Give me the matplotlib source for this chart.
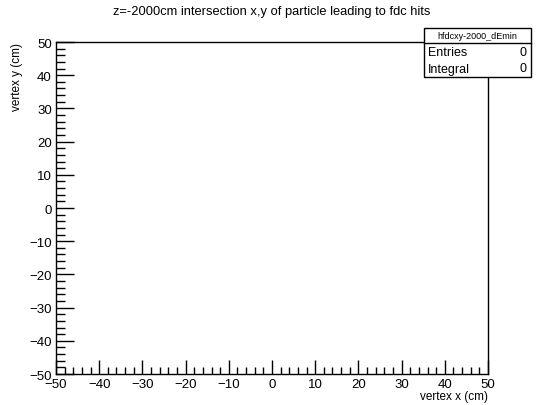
import numpy as np
import matplotlib.pyplot as plt
from matplotlib.ticker import MultipleLocator

plt.rcParams.update({'font.family': ['Liberation Sans', 'DejaVu Sans'],
                     'font.size': 9, 'axes.unicode_minus': True})

title = 'z=-2000cm intersection x,y of particle leading to fdc hits'
hist_name = 'hfdcxy-2000_dEmin'
x_label = 'vertex x (cm)'
y_label = 'vertex y (cm)'
x_range = [-50, 50]
y_range = [-50, 50]
stat_names = ['Entries', 'Integral']
stat_values = [0, 0]

W, H = 543, 406
fig = plt.figure(figsize=(W / 100, H / 100), dpi=100)
ax = fig.add_axes([56 / W, 1 - 375 / H, (488 - 56) / W, (375 - 43) / H])
ax.set_xlim(x_range)
ax.set_ylim(y_range)
for s in ax.spines.values():
    s.set_linewidth(1.0)

ax.xaxis.set_major_locator(MultipleLocator(10))
ax.xaxis.set_minor_locator(MultipleLocator(2))
ax.yaxis.set_major_locator(MultipleLocator(10))
ax.yaxis.set_minor_locator(MultipleLocator(2))
ax.tick_params(which='both', direction='in', top=False, right=False, width=1.0)
ax.tick_params(axis='x', which='major', length=10, pad=3, labelsize=9.5)
ax.tick_params(axis='x', which='minor', length=5)
ax.tick_params(axis='y', which='major', length=13, pad=3, labelsize=9.5)
ax.tick_params(axis='y', which='minor', length=6.5)

ax.set_xlabel(x_label, fontsize=8.5, ha='right', x=1.0, labelpad=0)
ax.set_ylabel(y_label, fontsize=8.5, ha='right')
ax.yaxis.set_label_coords((23 - 56) / 432, 1.0)

fig.text(272 / W, 1 - 12 / H, title, ha='center', va='center', fontsize=9.3)

# stats box
bx0, bx1, by0, by1, bsep = 424, 531, 29, 78, 44
fig.patches.append(plt.Rectangle((bx0 / W, 1 - by1 / H), (bx1 - bx0) / W, (by1 - by0) / H,
                                 transform=fig.transFigure, fill=True, facecolor='white',
                                 edgecolor='black', lw=1.0, zorder=5))
fig.lines.append(plt.Line2D([bx0 / W, bx1 / W], [1 - bsep / H, 1 - bsep / H],
                            transform=fig.transFigure, color='black', lw=1.0, zorder=6))
fig.text((bx0 + bx1) / 2 / W, 1 - (by0 + bsep) / 2 / H, hist_name, ha='center', va='center',
         fontsize=6.5, zorder=7)
row_h = (by1 - bsep) / len(stat_names)
for i, (n, v) in enumerate(zip(stat_names, stat_values)):
    yy = 1 - (bsep + row_h * (i + 0.5)) / H
    fig.text((bx0 + 4) / W, yy, n, ha='left', va='center', fontsize=9, zorder=7)
    fig.text((bx1 - 4) / W, yy, str(v), ha='right', va='center', fontsize=9, zorder=7)

fig.savefig('out.png', dpi=100)
